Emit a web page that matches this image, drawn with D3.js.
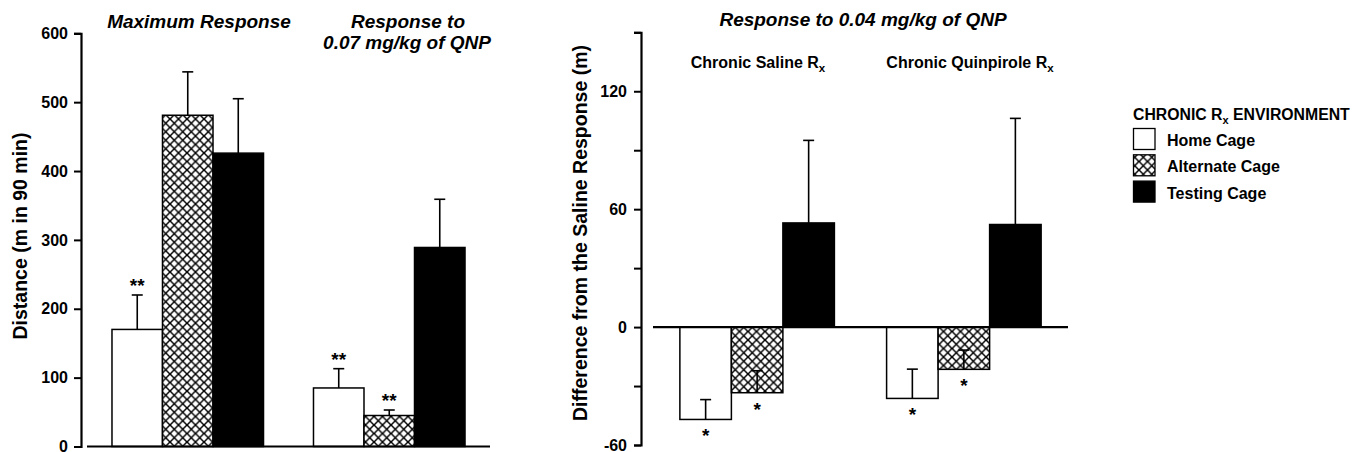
<!DOCTYPE html>
<html><head><meta charset="utf-8">
<script src="https://cdn.jsdelivr.net/npm/d3@7"></script>
<style>
html,body{margin:0;padding:0;background:#fff;}
svg text{font-family:"Liberation Sans",Arial,Helvetica,sans-serif;font-weight:bold;fill:#000;}
</style></head>
<body>
<svg id="c" width="1356" height="452"></svg>
<script>
// ---------- data ----------
const series = ["Home Cage", "Alternate Cage", "Testing Cage"];
const leftGroups = ["Maximum Response", "Response to 0.07 mg/kg of QNP"];
const leftMeans = [[170, 481, 426], [85, 45, 289]];
const leftSEM   = [[50, 63, 79], [28, 8, 70]];
const leftStars = [["**", "", ""], ["**", "**", ""]];
const leftTicks = [0, 100, 200, 300, 400, 500, 600];

const rightGroups = ["Chronic Saline", "Chronic Quinpirole"];
const rightMeans = [[-47, -33.4, 53], [-36.3, -21.5, 52.2]];
const rightSEM   = [[10.1, 11.2, 42], [14.9, 9.8, 54]];
const rightStars = [["*", "*", ""], ["*", "*", ""]];
const rightTicks = [-60, -30, 0, 30, 60, 90, 120, 150];
const rightTickLabels = [-60, 0, 60, 120];

const svg = d3.select("#c");
const defs = svg.append("defs");
const P = 8.5;
const pat = defs.append("pattern").attr("id","hatch").attr("patternUnits","userSpaceOnUse")
  .attr("width",P).attr("height",P);
pat.append("rect").attr("width",P).attr("height",P).attr("fill","#fff");
pat.append("path").attr("d",`M-1,-1L${P+1},${P+1}M${P+1},-1L-1,${P+1}`)
  .attr("stroke","#000").attr("stroke-width",1.5).attr("fill","none");
const fills = ["#fff","url(#hatch)","#000"];

function drawPanel(o){
  const y = d3.scaleLinear().domain(o.domain).range(o.yRange);
  const gx = d3.scaleBand().domain(d3.range(o.means.length)).range(o.xRange)
    .paddingInner(o.pin).paddingOuter(o.pout);
  const sx = d3.scaleBand().domain(d3.range(series.length)).range([0, gx.bandwidth()]);
  const g = svg.append("g");
  const ax = d3.axisLeft(y).tickValues(o.ticks).tickSize(7).tickPadding(o.pad)
    .tickFormat(d => o.labels.includes(d) ? d : "");
  const ag = g.append("g").attr("transform",`translate(${o.axisX},0)`).call(ax);
  ag.select(".domain").attr("stroke","#000").attr("stroke-width",2.2);
  ag.selectAll(".tick line").attr("stroke","#000").attr("stroke-width",2);
  ag.selectAll(".tick text").style("font-size","16px").attr("fill","#000");
  o.means.forEach((grp, gi) => {
    grp.forEach((v, si) => {
      const x0 = gx(gi) + sx(si), w = sx.bandwidth();
      const yt = y(Math.max(0, v)), yb = y(Math.min(0, v));
      g.append("rect").attr("x",x0).attr("y",yt).attr("width",w).attr("height",yb-yt)
        .attr("fill",fills[si]).attr("stroke","#000").attr("stroke-width",1.5);
      const e = o.sem[gi][si];
      const ye0 = y(v), ye1 = y(v + e);
      const cx = x0 + w/2;
      g.append("line").attr("x1",cx).attr("x2",cx).attr("y1",ye0).attr("y2",ye1)
        .attr("stroke","#000").attr("stroke-width",1.6);
      g.append("line").attr("x1",cx-5.5).attr("x2",cx+5.5).attr("y1",ye1).attr("y2",ye1)
        .attr("stroke","#000").attr("stroke-width",1.6);
      const st = o.stars[gi][si];
      if (st) {
        const ty = v >= 0 ? y(v + e) - 2.7 : y(v) + 22.8;
        g.append("text").attr("x",cx).attr("y",ty).attr("text-anchor","middle")
          .style("font-size","19px").text(st);
      }
    });
  });
  g.append("line").attr("x1",o.xRange[0]).attr("x2",o.xRange[1]).attr("y1",y(0)).attr("y2",y(0))
    .attr("stroke","#000").attr("stroke-width",2.2);
  return {y, gx, g};
}

drawPanel({domain:[0,600], yRange:[446.5,33.3], xRange:[87,490], pin:0.248, pout:0.124,
  axisX:81, ticks:leftTicks, labels:leftTicks, pad:6, means:leftMeans, sem:leftSEM, stars:leftStars});
drawPanel({domain:[-60,150], yRange:[445,32.3], xRange:[653,1068], pin:0.2525, pout:0.13,
  axisX:641, ticks:rightTicks, labels:rightTickLabels, pad:7, means:rightMeans, sem:rightSEM, stars:rightStars});

const tstyle = s => s.style("font-size","19px").style("font-style","italic").attr("text-anchor","middle");
svg.append("text").attr("x",199).attr("y",28.3).call(tstyle).text(leftGroups[0]);
svg.append("text").attr("x",408).attr("y",28.3).call(tstyle).text("Response to");
svg.append("text").attr("x",407).attr("y",49.3).call(tstyle).text("0.07 mg/kg of QNP");
svg.append("text").attr("x",863).attr("y",26).call(tstyle).text("Response to 0.04 mg/kg of QNP");

svg.append("text").attr("transform","translate(27,236) rotate(-90)").attr("text-anchor","middle")
  .style("font-size","19.5px").text("Distance (m in 90 min)");
svg.append("text").attr("transform","translate(587,233) rotate(-90)").attr("text-anchor","middle")
  .style("font-size","19.5px").text("Difference from the Saline Response (m)");

function rxLabel(x, yb, base, size, anchor){
  const t = svg.append("text").attr("x",x).attr("y",yb).attr("text-anchor",anchor).style("font-size",size+"px");
  t.append("tspan").text(base + " R");
  t.append("tspan").attr("dy",4).style("font-size",(size*0.72)+"px").text("x");
  return t;
}
rxLabel(758, 68.3, rightGroups[0], 16, "middle");
rxLabel(970, 68.3, rightGroups[1], 16, "middle");

const lt = svg.append("text").attr("x",1133).attr("y",120).style("font-size","15.8px");
lt.append("tspan").text("CHRONIC R");
lt.append("tspan").attr("dy",4).style("font-size","11px").text("x");
lt.append("tspan").attr("dy",-4).text(" ENVIRONMENT");
series.forEach((s,i)=>{
  const yy = 128.5 + i*26.3;
  svg.append("rect").attr("x",1133.5).attr("y",yy).attr("width",21.5).attr("height",21)
    .attr("fill",fills[i]).attr("stroke","#000").attr("stroke-width",1.3);
  svg.append("text").attr("x",1167).attr("y",yy+17.5).style("font-size","16px").text(s);
});
</script>
</body></html>
